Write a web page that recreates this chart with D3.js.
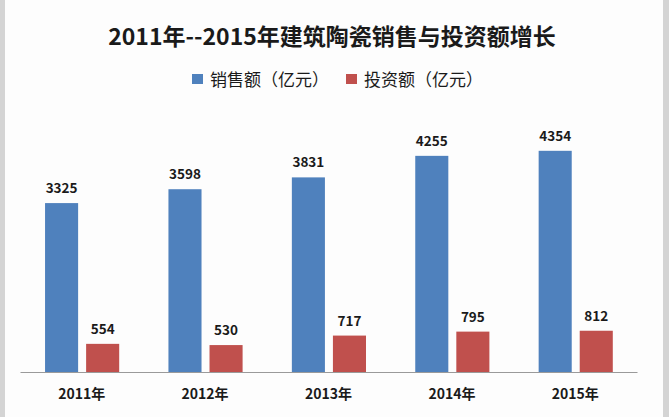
<!DOCTYPE html>
<html><head><meta charset="utf-8">
<script src="https://cdn.jsdelivr.net/npm/d3@7"></script>
<style>
html,body{margin:0;padding:0;background:#fff;}
svg{display:block;}
text{font-family:"Noto Sans CJK SC","Noto Sans",sans-serif;}
</style></head>
<body>
<script>
const categories = ["2011年","2012年","2013年","2014年","2015年"];
const salesValues = [3325,3598,3831,4255,4354];
const investValues = [554,530,717,795,812];
const seriesNames = ["销售额（亿元）","投资额（亿元）"];
const seriesColors = ["#4F81BD","#C0504D"];
const titleText = "2011年--2015年建筑陶瓷销售与投资额增长";

const W = 669, H = 417;
const svg = d3.select("body").append("svg").attr("width", W).attr("height", H);

svg.append("rect").attr("x",0).attr("y",0).attr("width",W).attr("height",H).attr("fill","#d4d4d4");
svg.append("rect").attr("x",5).attr("y",0).attr("width",658).attr("height",H).attr("fill","#fdfdfd");

const left = 20, right = 637, axisY = 372;
const x = d3.scaleBand().domain(categories).range([left, right]).paddingInner(0).paddingOuter(0);
const y = d3.scaleLinear().domain([0, 5000]).range([axisY, axisY - 5000*0.0508]);

svg.append("text").attr("x", 332).attr("y", 45).attr("text-anchor","middle")
  .attr("font-size", 23).attr("font-weight","bold").attr("fill","#1a1a1a").text(titleText);

// legend
const legendX = [192, 346];
seriesNames.forEach((n,i)=>{
  svg.append("rect").attr("x", legendX[i]).attr("y", 74).attr("width", 11).attr("height", 10).attr("fill", seriesColors[i]);
  svg.append("text").attr("x", legendX[i]+18).attr("y", 86).attr("font-size", 17).attr("fill","#1a1a1a").text(n);
});

const bw = x.bandwidth();
const barW = bw*0.268, gap = 8, off = bw*0.203;
const data = categories.map((c,i)=>({c, vals:[salesValues[i], investValues[i]]}));

const g = svg.append("g");
data.forEach(d=>{
  d.vals.forEach((v,j)=>{
    const bx = x(d.c) + off + j*(barW+gap);
    g.append("rect").attr("x", bx).attr("y", y(v)).attr("width", barW).attr("height", axisY - y(v)).attr("fill", seriesColors[j]);
    g.append("text").attr("x", bx + barW/2).attr("y", y(v) - 10).attr("text-anchor","middle")
      .attr("font-size", 13.5).attr("font-weight","bold").attr("fill","#1a1a1a").text(v);
  });
});

const axis = d3.axisBottom(x).tickSize(0).tickPadding(0);
const ag = svg.append("g").attr("transform", `translate(0,${axisY})`).call(axis);
ag.select(".domain").attr("stroke","#9a9a9a").attr("stroke-width",1.2);
ag.selectAll(".tick text").attr("y", 27).attr("dy", 0).attr("font-size", 14).attr("font-weight","bold")
  .attr("fill","#1a1a1a").style("font-family","\"Noto Sans CJK SC\",sans-serif");
</script>
</body></html>
